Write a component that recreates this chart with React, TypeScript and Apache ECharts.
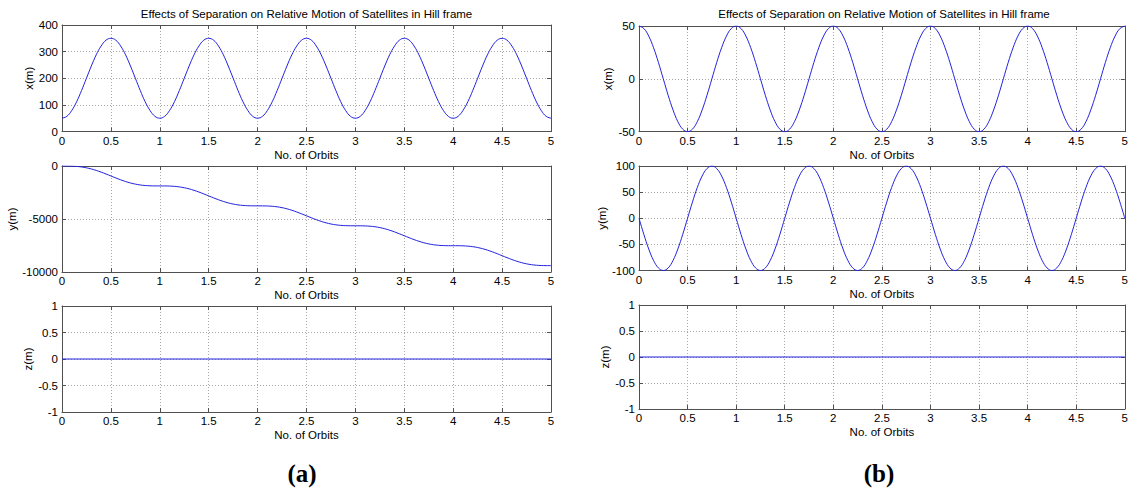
import { useEffect, useRef } from "react";
import * as echarts from "echarts";

const orbits = [
  0, 0.05, 0.1, 0.15, 0.2, 0.25, 0.3, 0.35, 0.4, 0.45, 0.5, 0.55, 0.6, 0.65, 0.7, 0.75, 0.8, 0.85, 0.9, 0.95,
  1, 1.05, 1.1, 1.15, 1.2, 1.25, 1.3, 1.35, 1.4, 1.45, 1.5, 1.55, 1.6, 1.65, 1.7, 1.75, 1.8, 1.85, 1.9, 1.95,
  2, 2.05, 2.1, 2.15, 2.2, 2.25, 2.3, 2.35, 2.4, 2.45, 2.5, 2.55, 2.6, 2.65, 2.7, 2.75, 2.8, 2.85, 2.9, 2.95,
  3, 3.05, 3.1, 3.15, 3.2, 3.25, 3.3, 3.35, 3.4, 3.45, 3.5, 3.55, 3.6, 3.65, 3.7, 3.75, 3.8, 3.85, 3.9, 3.95,
  4, 4.05, 4.1, 4.15, 4.2, 4.25, 4.3, 4.35, 4.4, 4.45, 4.5, 4.55, 4.6, 4.65, 4.7, 4.75, 4.8, 4.85, 4.9, 4.95,
  5,
];

// (a) radial separation x(m)
const xA = [
  50, 57, 79, 112, 154, 200, 246, 288, 321, 343, 350, 343, 321, 288, 246, 200, 154, 112, 79, 57,
  50, 57, 79, 112, 154, 200, 246, 288, 321, 343, 350, 343, 321, 288, 246, 200, 154, 112, 79, 57,
  50, 57, 79, 112, 154, 200, 246, 288, 321, 343, 350, 343, 321, 288, 246, 200, 154, 112, 79, 57,
  50, 57, 79, 112, 154, 200, 246, 288, 321, 343, 350, 343, 321, 288, 246, 200, 154, 112, 79, 57,
  50, 57, 79, 112, 154, 200, 246, 288, 321, 343, 350, 343, 321, 288, 246, 200, 154, 112, 79, 57,
  50,
];

// (a) along-track y(m)
const yA = [
  0, -2, -12, -40, -91, -171, -279, -416, -576, -754, -940, -1126, -1304, -1464, -1601, -1709, -1789, -1840, -1868, -1878,
  -1880, -1882, -1892, -1920, -1971, -2051, -2159, -2296, -2456, -2634, -2820, -3006, -3184, -3344, -3481, -3589, -3669, -3720, -3748, -3758,
  -3760, -3762, -3772, -3800, -3851, -3931, -4039, -4176, -4336, -4514, -4700, -4886, -5064, -5224, -5361, -5469, -5549, -5600, -5628, -5638,
  -5640, -5642, -5652, -5680, -5731, -5811, -5919, -6056, -6216, -6394, -6580, -6766, -6944, -7104, -7241, -7349, -7429, -7480, -7508, -7518,
  -7520, -7522, -7532, -7560, -7611, -7691, -7799, -7936, -8096, -8274, -8460, -8646, -8824, -8984, -9121, -9229, -9309, -9360, -9388, -9398,
  -9400,
];

// (b) radial separation x(m)
const xB = [
  50, 47.6, 40.5, 29.4, 15.5, 0, -15.5, -29.4, -40.5, -47.6, -50, -47.6, -40.5, -29.4, -15.5, 0, 15.5, 29.4, 40.5, 47.6,
  50, 47.6, 40.5, 29.4, 15.5, 0, -15.5, -29.4, -40.5, -47.6, -50, -47.6, -40.5, -29.4, -15.5, 0, 15.5, 29.4, 40.5, 47.6,
  50, 47.6, 40.5, 29.4, 15.5, 0, -15.5, -29.4, -40.5, -47.6, -50, -47.6, -40.5, -29.4, -15.5, 0, 15.5, 29.4, 40.5, 47.6,
  50, 47.6, 40.5, 29.4, 15.5, 0, -15.5, -29.4, -40.5, -47.6, -50, -47.6, -40.5, -29.4, -15.5, 0, 15.5, 29.4, 40.5, 47.6,
  50, 47.6, 40.5, 29.4, 15.5, 0, -15.5, -29.4, -40.5, -47.6, -50, -47.6, -40.5, -29.4, -15.5, 0, 15.5, 29.4, 40.5, 47.6,
  50,
];

// (b) along-track y(m)
const yB = [
  0, -30.9, -58.8, -80.9, -95.1, -100, -95.1, -80.9, -58.8, -30.9, 0, 30.9, 58.8, 80.9, 95.1, 100, 95.1, 80.9, 58.8, 30.9,
  0, -30.9, -58.8, -80.9, -95.1, -100, -95.1, -80.9, -58.8, -30.9, 0, 30.9, 58.8, 80.9, 95.1, 100, 95.1, 80.9, 58.8, 30.9,
  0, -30.9, -58.8, -80.9, -95.1, -100, -95.1, -80.9, -58.8, -30.9, 0, 30.9, 58.8, 80.9, 95.1, 100, 95.1, 80.9, 58.8, 30.9,
  0, -30.9, -58.8, -80.9, -95.1, -100, -95.1, -80.9, -58.8, -30.9, 0, 30.9, 58.8, 80.9, 95.1, 100, 95.1, 80.9, 58.8, 30.9,
  0, -30.9, -58.8, -80.9, -95.1, -100, -95.1, -80.9, -58.8, -30.9, 0, 30.9, 58.8, 80.9, 95.1, 100, 95.1, 80.9, 58.8, 30.9,
  0,
];

// cross-track z(m), flat at zero
const zOrbits = [0, 5];
const zA = [0, 0];
const zB = [0, 0];

const TITLE = "Effects of Separation on Relative Motion of Satellites in Hill frame";
const X_NAME = "No. of Orbits";

const FONT = "Arial, 'Liberation Sans', Helvetica, sans-serif";
const SERIF = "'Liberation Serif', 'Times New Roman', Times, serif";
const AXIS_C = "#505050";
const GRID_C = "#a8a8a8";
const LINE_C = "#2222dd";
const FS = 11.5;

export default function App() {
  const ref = useRef<HTMLDivElement>(null);

  useEffect(() => {
    const chart = echarts.init(ref.current!, null, { renderer: "svg" });

    const panels = [
      { left: 62, top: 25, width: 489, height: 106.5, xs: orbits, ys: xA, min: 0, max: 400, interval: 100, name: "x(m)", gap: 24, smooth: 0.4 },
      { left: 62, top: 166, width: 489, height: 106, xs: orbits, ys: yA, min: -10000, max: 0, interval: 5000, name: "y(m)", gap: 35, smooth: 0.4 },
      { left: 62, top: 306, width: 489, height: 106, xs: zOrbits, ys: zA, min: -1, max: 1, interval: 0.5, name: "z(m)", gap: 24, smooth: false },
      { left: 639, top: 26, width: 490, height: 105.7, xs: orbits, ys: xB, min: -50, max: 50, interval: 50, name: "x(m)", gap: 23, smooth: 0.4 },
      { left: 639, top: 166, width: 490, height: 104.5, xs: orbits, ys: yB, min: -100, max: 100, interval: 50, name: "y(m)", gap: 26, smooth: 0.4 },
      { left: 639, top: 305, width: 490, height: 104, xs: zOrbits, ys: zB, min: -1, max: 1, interval: 0.5, name: "z(m)", gap: 25, smooth: false },
    ];

    const grid: any[] = [];
    const xAxis: any[] = [];
    const yAxis: any[] = [];
    const series: any[] = [];

    const lineStyle = { color: AXIS_C, width: 1 };
    const tick = { show: true, inside: true, length: 4, lineStyle };
    const plain = (v: number) => String(v);

    panels.forEach((p, i) => {
      grid.push({ left: p.left, top: p.top, width: p.width, height: p.height, containLabel: false });
      const xBase = { gridIndex: i, type: "value", min: 0, max: 5, interval: 0.5 };
      xAxis.push({
        ...xBase,
        position: "bottom",
        name: X_NAME,
        nameLocation: "middle",
        nameGap: 17,
        nameTextStyle: { fontFamily: FONT, fontSize: FS, color: "#000" },
        axisLine: { show: true, onZero: false, lineStyle },
        axisTick: tick,
        axisLabel: { fontFamily: FONT, fontSize: FS, color: "#000", margin: 3, formatter: plain },
        splitLine: { show: true, lineStyle: { color: GRID_C, width: 1, type: [1, 2] } },
      });
      xAxis.push({
        ...xBase,
        position: "top",
        axisLine: { show: true, onZero: false, lineStyle },
        axisTick: tick,
        axisLabel: { show: false },
        splitLine: { show: false },
      });
      const yBase = { gridIndex: i, type: "value", min: p.min, max: p.max, interval: p.interval };
      yAxis.push({
        ...yBase,
        position: "left",
        name: p.name,
        nameLocation: "middle",
        nameRotate: 90,
        nameGap: p.gap,
        nameTextStyle: { fontFamily: FONT, fontSize: FS, color: "#000" },
        axisLine: { show: true, onZero: false, lineStyle },
        axisTick: tick,
        axisLabel: { fontFamily: FONT, fontSize: FS, color: "#000", margin: 4, formatter: plain },
        splitLine: { show: true, lineStyle: { color: GRID_C, width: 1, type: [1, 2] } },
      });
      yAxis.push({
        ...yBase,
        position: "right",
        axisLine: { show: true, onZero: false, lineStyle },
        axisTick: tick,
        axisLabel: { show: false },
        splitLine: { show: false },
      });
      series.push({
        type: "line",
        xAxisIndex: i * 2,
        yAxisIndex: i * 2,
        data: p.xs.map((t, k) => [t, p.ys[k]]),
        showSymbol: false,
        smooth: p.smooth,
        lineStyle: { color: LINE_C, width: 1 },
        itemStyle: { color: LINE_C },
        z: 3,
      });
    });

    chart.setOption({
      animation: false,
      backgroundColor: "#ffffff",
      grid,
      xAxis,
      yAxis,
      series,
      graphic: [
        { type: "text", x: 306.5, y: 13.5, style: { text: TITLE, fontFamily: FONT, fontSize: FS, fill: "#000", align: "center", verticalAlign: "middle" } },
        { type: "text", x: 884, y: 13.5, style: { text: TITLE, fontFamily: FONT, fontSize: FS, fill: "#000", align: "center", verticalAlign: "middle" } },
        { type: "text", x: 302, y: 473, style: { text: "(a)", fontFamily: SERIF, fontWeight: "bold", fontSize: 25, fill: "#000", align: "center", verticalAlign: "middle" } },
        { type: "text", x: 879, y: 473, style: { text: "(b)", fontFamily: SERIF, fontWeight: "bold", fontSize: 25, fill: "#000", align: "center", verticalAlign: "middle" } },
      ],
    });

    return () => chart.dispose();
  }, []);

  return (
    <div
      ref={ref}
      style={{ position: "fixed", left: 0, top: 0, width: 1131, height: 489, background: "#fff" }}
    />
  );
}
